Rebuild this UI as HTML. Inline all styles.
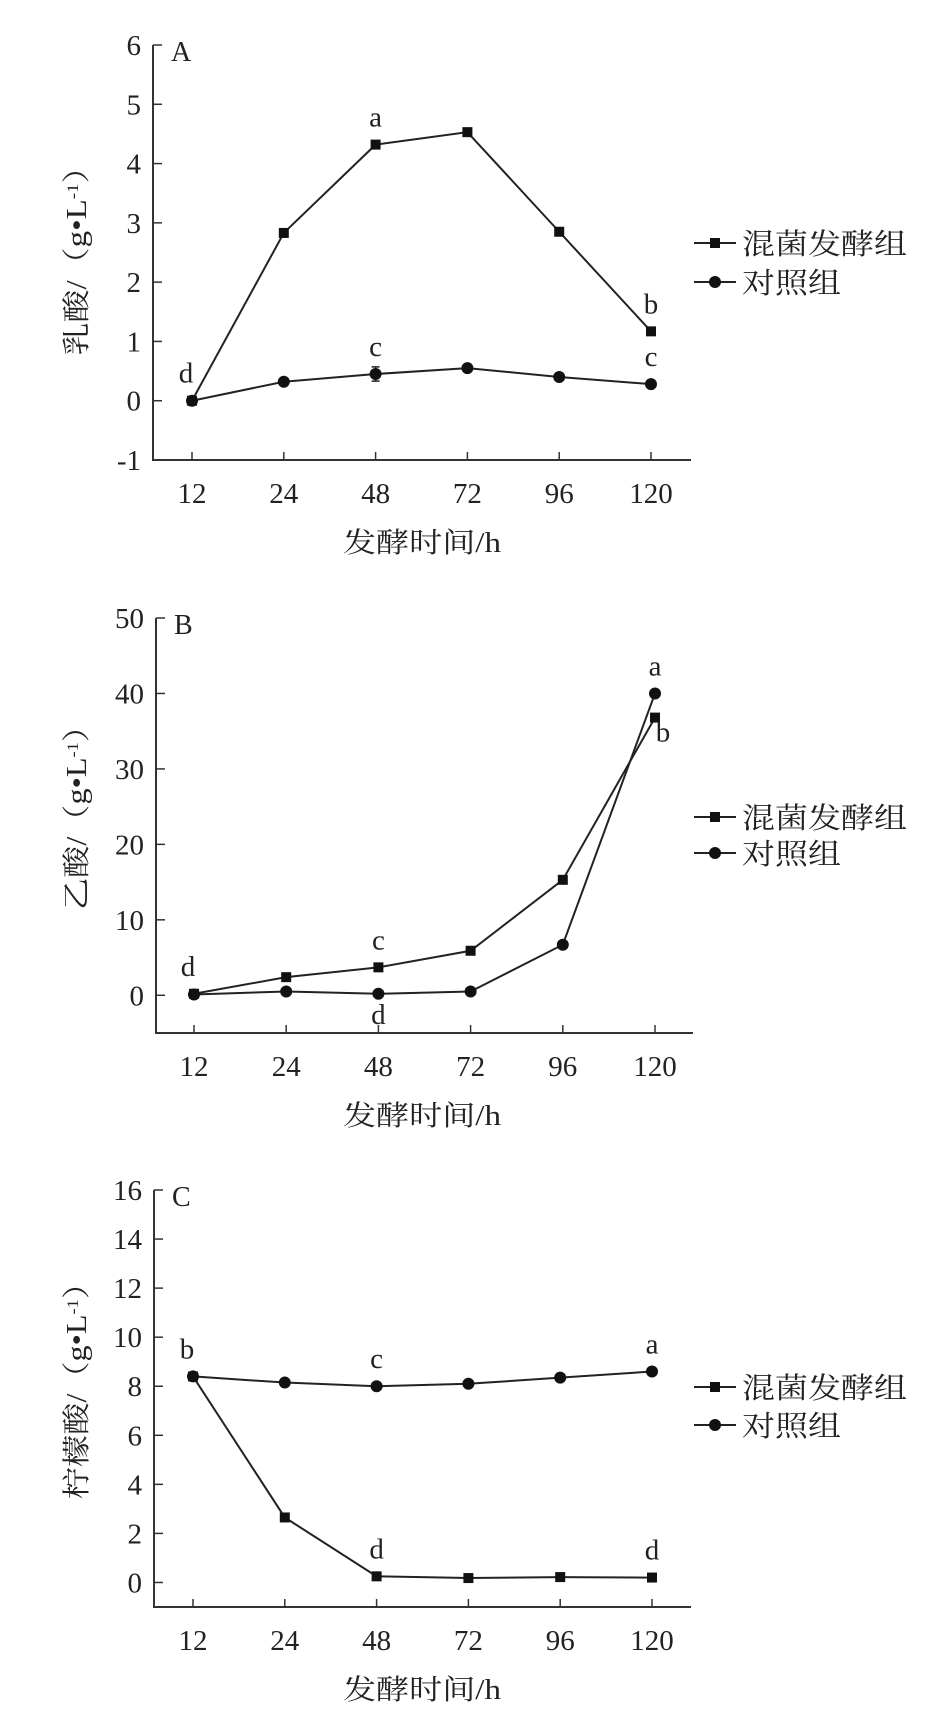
<!DOCTYPE html>
<html><head><meta charset="utf-8"><style>
html,body{margin:0;padding:0;background:#fff;}
svg text{font-family:"Liberation Serif","Noto Serif CJK SC","Noto Sans CJK SC",serif;fill:#222;}
</style></head><body>
<svg id="fig" width="933" height="1723" viewBox="0 0 933 1723" xmlns="http://www.w3.org/2000/svg"></svg>
<script>
const hours = ["12","24","48","72","96","120"];
// Panel A: lactic acid
const lacticMixed = [0, 2.83, 4.32, 4.53, 2.85, 1.17];
const lacticCtrl = [0, 0.32, 0.45, 0.55, 0.40, 0.28];
const lacticCtrlErr = [0, 0, 0.12, 0, 0, 0.05];
const lacticTicks = [-1,0,1,2,3,4,5,6];
const lacticLetters = [["d",0,"mixed",-1],["a",2,"mixed",-1],["b",5,"mixed",-1],["c",2,"ctrl",-1],["c",5,"ctrl",-1]];
// Panel B: acetic acid
const aceticMixed = [0.2, 2.4, 3.7, 5.9, 15.3, 36.8];
const aceticCtrl = [0.1, 0.5, 0.2, 0.5, 6.7, 40.0];
const aceticTicks = [0,10,20,30,40,50];
const aceticLetters = [["d",0,"mixed",-1],["c",2,"mixed",-1],["d",2,"ctrl",1],["a",5,"ctrl",-1],["b",5,"mixed",1]];
// Panel C: citric acid
const citricMixed = [8.4, 2.65, 0.25, 0.18, 0.22, 0.20];
const citricCtrl = [8.4, 8.15, 8.0, 8.1, 8.35, 8.6];
const citricTicks = [0,2,4,6,8,10,12,14,16];
const citricLetters = [["b",0,"ctrl",-1],["c",2,"ctrl",-1],["a",5,"ctrl",-1],["d",2,"mixed",-1],["d",5,"mixed",-1]];

const NS="http://www.w3.org/2000/svg";
const svg=document.getElementById('fig');
function mk(tag,attrs,parent){const e=document.createElementNS(NS,tag);for(const k in attrs)e.setAttribute(k,attrs[k]);(parent||svg).appendChild(e);return e;}

function panel(o){
  const g=mk('g',{});
  
  
  const x=i=>o.x0+i*o.step;
  const y=v=>o.yTop+(o.ymax-v)*(o.yBot-o.yTop)/(o.ymax-o.ymin);
  const ax=mk('path',{d:`M${o.axX},${o.yTop} V${o.yBot} H${o.axR}`,fill:'none',stroke:'#333','stroke-width':2},g);
  
  
  o.ticks.forEach(t=>{
    mk('line',{x1:o.axX,x2:o.axX+9,y1:y(t),y2:y(t),stroke:'#333','stroke-width':1.5},g);
    const tx=mk('text',{x:o.axX-12,y:y(t)+10,'font-size':29,'text-anchor':'end'},g);
    tx.textContent=t;
    
    
  });
  hours.forEach((h,i)=>{
    mk('line',{x1:x(i),x2:x(i),y1:o.yBot,y2:o.yBot-8,stroke:'#333','stroke-width':1.5},g);
    const tx=mk('text',{x:x(i),y:o.yBot+43,'font-size':29,'text-anchor':'middle'},g);
    tx.textContent=h;
    
    
  });
  const xt=mk('text',{x:422,y:o.yBot+92,'font-size':28,'text-anchor':'middle',textLength:158,lengthAdjust:'spacingAndGlyphs'},g);
  xt.textContent='发酵时间/h';
  
  
  const yt=mk('text',{transform:`translate(${o.ylx},${o.ylc}) rotate(-90)`,x:0,y:0,'font-size':28,'text-anchor':'middle',textLength:o.ylLen,lengthAdjust:'spacingAndGlyphs'},g);
  yt.innerHTML=o.ylab+'/（g•L<tspan baseline-shift="super" font-size="16">-1</tspan>）';
  
  
  const pl=mk('text',{x:o.axX+18,y:o.yTop+16,'font-size':28},g);
  pl.textContent=o.letter;
  
  
  if(o.ctrlErr){
    o.ctrlErr.forEach((e,i)=>{
      if(!e) return;
      const v=o.ctrl[i];
      const eb=mk('path',{d:`M${x(i)},${y(v+e)} V${y(v-e)} M${x(i)-4},${y(v+e)} H${x(i)+4} M${x(i)-4},${y(v-e)} H${x(i)+4}`,stroke:'#222','stroke-width':1.5,fill:'none'},g);
      
      
    });
  }
  const series=[['mixed',o.mixed,'sq'],['ctrl',o.ctrl,'ci']];
  series.forEach(([nm,vals,mkType])=>{
    const ln=mk('polyline',{points:vals.map((v,i)=>x(i)+','+y(v)).join(' '),fill:'none',stroke:'#222','stroke-width':2},g);
    
    
    vals.forEach((v,i)=>{
      let m;
      if(mkType==='sq') m=mk('rect',{x:x(i)-5,y:y(v)-5,width:10,height:10,fill:'#111'},g);
      else m=mk('circle',{cx:x(i),cy:y(v),r:6,fill:'#111'},g);
      
      
    });
  });
  o.letters.forEach(([s,i,sr,dir])=>{
    const v=(sr==='mixed'?o.mixed:o.ctrl)[i];
    const dx=(dir>0&&i===5)?8:0;
    const ty=dir<0?y(v)-18:y(v)+(i===5?24:30);
    const tx=mk('text',{x:x(i)-(i===0?6:0)+dx,y:ty,'font-size':29,'text-anchor':'middle'},g);
    tx.textContent=s;
    
    
  });
  [['混菌发酵组','sq',o.leg[0],165],['对照组','ci',o.leg[1],99]].forEach(([t,mt,cy,w])=>{
    const lg=mk('g',{},g);
    
    
    mk('line',{x1:694,x2:736,y1:cy,y2:cy,stroke:'#222','stroke-width':2},lg);
    if(mt==='sq') mk('rect',{x:710,y:cy-5,width:10,height:10,fill:'#111'},lg);
    else mk('circle',{cx:715,cy:cy,r:6,fill:'#111'},lg);
    const tx=mk('text',{x:742,y:cy+11,'font-size':29,textLength:w,lengthAdjust:'spacingAndGlyphs'},lg);
    tx.textContent=t;
  });
}
panel({name:'panel-a-lactic',axX:153,axR:691,x0:192,step:91.8,ymin:-1,ymax:6,yTop:45,yBot:460,ticks:lacticTicks,mixed:lacticMixed,ctrl:lacticCtrl,ctrlErr:lacticCtrlErr,letters:lacticLetters,letter:'A',ylab:'乳酸',ylx:86,ylc:253,ylLen:205,leg:[243,282]});
panel({name:'panel-b-acetic',axX:156,axR:693,x0:194,step:92.2,ymin:-5,ymax:50,yTop:618,yBot:1033,ticks:aceticTicks,mixed:aceticMixed,ctrl:aceticCtrl,letters:aceticLetters,letter:'B',ylab:'乙酸',ylx:86,ylc:810,ylLen:200,leg:[817,853]});
panel({name:'panel-c-citric',axX:154,axR:691,x0:193,step:91.8,ymin:-1,ymax:16,yTop:1190,yBot:1607,ticks:citricTicks,mixed:citricMixed,ctrl:citricCtrl,letters:citricLetters,letter:'C',ylab:'柠檬酸',ylx:86,ylc:1383,ylLen:232,leg:[1387,1425]});
</script>
</body></html>
